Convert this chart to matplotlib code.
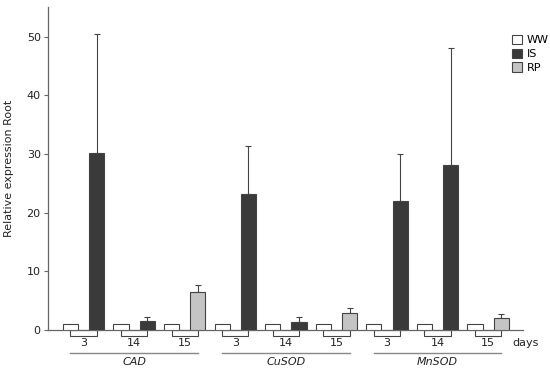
import numpy as np
import matplotlib
matplotlib.use("Agg")
import matplotlib.pyplot as plt
from matplotlib.patches import Patch

# data
genes = ["CAD", "CuSOD", "MnSOD"]
days = ["3", "14", "15"]
ww = [1, 1, 1, 1, 1, 1, 1, 1, 1]
treat = [30.2, 1.5, 6.4, 23.2, 1.4, 2.9, 22.0, 28.1, 2.0]
treat_err = [20.2, 0.7, 1.2, 8.1, 0.8, 0.9, 8.0, 20.0, 0.7]
treat_kind = ["IS", "IS", "RP", "IS", "IS", "RP", "IS", "IS", "RP"]

col = {"WW": "white", "IS": "#3a3a3a", "RP": "#c4c4c4"}
edge = "#444444"
grey = "#666666"

fig = plt.figure(figsize=(5.5, 3.71), dpi=100)
ax = fig.add_axes([0.0867, 0.1105, 0.8643, 0.8695])

x = np.arange(len(treat))
off = 0.26
w = 0.30

# bracket below axis joining each pair
ax.bar(x, [-1] * len(x), width=2 * off, bottom=0, color="white",
       edgecolor=edge, linewidth=0.8, clip_on=False, zorder=2)
ax.bar(x - off, ww, width=w, color=col["WW"], edgecolor=edge, linewidth=0.8, zorder=3)
ax.bar(x + off, treat, width=w, color=[col[k] for k in treat_kind],
       edgecolor=edge, linewidth=0.8, zorder=3)
ax.errorbar(x + off, treat, yerr=[np.zeros(len(treat)), treat_err], fmt="none",
            ecolor=edge, elinewidth=0.8, capsize=2.5, capthick=0.8, zorder=2)

ax.set_xlim(-0.71, 8.69)
ax.set_ylim(0, 55)
ax.set_yticks([0, 10, 20, 30, 40, 50])
ax.set_xticks([])
ax.spines["top"].set_visible(False)
ax.spines["right"].set_visible(False)
for s in ["left", "bottom"]:
    ax.spines[s].set_color(grey)
    ax.spines[s].set_linewidth(0.9)
ax.tick_params(axis="y", length=3, color=grey, labelsize=8, labelcolor="#222222", pad=2)
ax.set_ylabel("Relative expression Root", fontsize=8, color="#222222", labelpad=9)

# day labels, gene lines and names
trans = ax.get_xaxis_transform()
for i in range(len(x)):
    ax.text(x[i], -0.04, days[i % 3], transform=trans, ha="center", va="center",
            fontsize=8, color="#222222")
for g, name in enumerate(genes):
    x0 = x[g * 3] - off
    x1 = x[g * 3 + 2] + off
    ax.plot([x0, x1], [-0.0705, -0.0705], transform=trans, color="#888888",
            linewidth=1, clip_on=False)
    ax.text((x0 + x1) / 2, -0.098, name, transform=trans, ha="center", va="center",
            fontsize=8, style="italic", color="#222222")
ax.text(8.47, -0.04, "days", transform=trans, ha="left", va="center",
        fontsize=8, color="#222222")

handles = [Patch(facecolor=col[k], edgecolor=edge, linewidth=0.8) for k in ["WW", "IS", "RP"]]
ax.legend(handles, ["WW", "IS", "RP"], loc="upper left", bbox_to_anchor=(0.977, 0.915),
          frameon=False, fontsize=8, handlelength=0.9, handleheight=0.9,
          handletextpad=0.4, labelspacing=0.3, borderaxespad=0, borderpad=0)

fig.savefig("out.png", dpi=100)
